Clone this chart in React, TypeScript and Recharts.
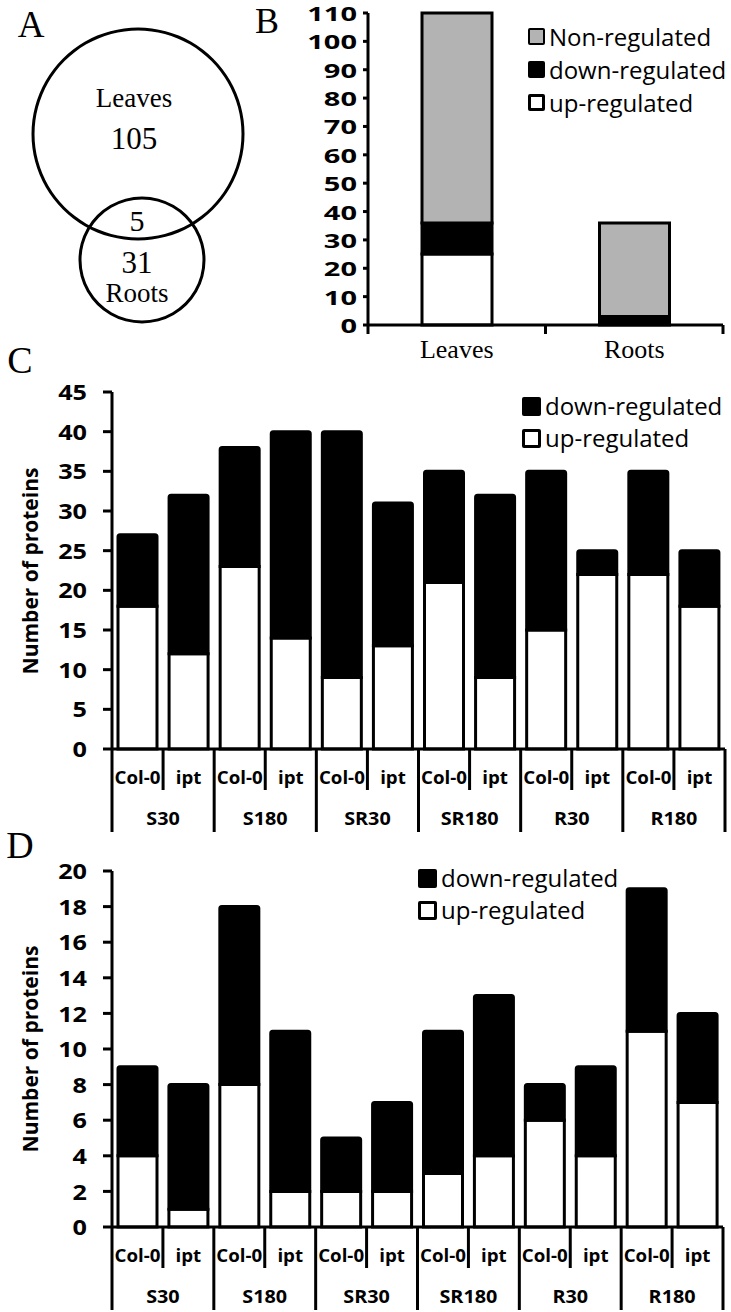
import type { CSSProperties } from 'react'
import { Bar, BarChart, Pie, PieChart, XAxis, YAxis } from 'recharts'

// panel A: venn counts (leaves only, shared, roots only)
const VENN_SETS = ['Leaves', 'Roots']
const VENN_COUNTS = [105, 5, 31]

// panel B
const ORGANS = ['Leaves', 'Roots']
const ORGAN_UP = [25, 1]
const ORGAN_DOWN = [11, 2]
const ORGAN_NON = [74, 33]
const B_TICKS = [0, 10, 20, 30, 40, 50, 60, 70, 80, 90, 100, 110]

// panels C and D
const TREATMENTS = ['S30', 'S180', 'SR30', 'SR180', 'R30', 'R180']
const LINES = ['Col-0', 'ipt']

const C_UP = [18, 12, 23, 14, 9, 13, 21, 9, 15, 22, 22, 18]
const C_DOWN = [9, 20, 15, 26, 31, 18, 14, 23, 20, 3, 13, 7]
const C_TICKS = [0, 5, 10, 15, 20, 25, 30, 35, 40, 45]

const D_UP = [4, 1, 8, 2, 2, 2, 3, 4, 6, 4, 11, 7]
const D_DOWN = [5, 7, 10, 9, 3, 5, 8, 9, 2, 5, 8, 5]
const D_TICKS = [0, 2, 4, 6, 8, 10, 12, 14, 16, 18, 20]

const SANS = "'Open Sans', 'Noto Sans', sans-serif"
const SERIF = "'Liberation Serif', 'DejaVu Serif', serif"
const GRAY = '#b3b3b3'

const organData = ORGANS.map((organ, i) => ({
  organ,
  up: ORGAN_UP[i],
  down: ORGAN_DOWN[i],
  non: ORGAN_NON[i],
}))

function buildRows(up: number[], down: number[]) {
  const rows: { id: string; treatment: string; line: string; up: number; down: number }[] = []
  TREATMENTS.forEach((treatment, t) => {
    LINES.forEach((line, l) => {
      const i = t * LINES.length + l
      rows.push({ id: `${treatment}|${line}`, treatment, line, up: up[i], down: down[i] })
    })
  })
  return rows
}

const cData = buildRows(C_UP, C_DOWN)
const dData = buildRows(D_UP, D_DOWN)

function YTick(props: any) {
  const { x, y, payload, stretch, size } = props
  return (
    <text
      transform={`translate(${x},${y}) scale(${stretch},1)`}
      textAnchor="end"
      dominantBaseline="central"
      fontFamily={SANS}
      fontWeight={700}
      fontSize={size}
      fill="#000"
    >
      {payload.value}
    </text>
  )
}

function OrganTick(props: any) {
  const { x, y, payload, index, band } = props
  const half = band / 2
  return (
    <g>
      <line x1={x - half} x2={x - half} y1={y} y2={y + 9} stroke="#000" strokeWidth={3} />
      {index === ORGANS.length - 1 && (
        <line x1={x + half} x2={x + half} y1={y} y2={y + 9} stroke="#000" strokeWidth={3} />
      )}
      <text
        x={x}
        y={y + 24}
        textAnchor="middle"
        dominantBaseline="central"
        fontFamily={SERIF}
        fontSize={26}
        fill="#000"
      >
        {payload.value}
      </text>
    </g>
  )
}

function GroupTick(props: any) {
  const { x, y, index, band, rows } = props
  const row = rows[index]
  const half = band / 2
  const first = index % 2 === 0
  const last = index === rows.length - 1
  return (
    <g>
      <line
        x1={x - half}
        x2={x - half}
        y1={y}
        y2={y + (first ? 83 : 41)}
        stroke="#000"
        strokeWidth={3}
      />
      {last && <line x1={x + half} x2={x + half} y1={y} y2={y + 83} stroke="#000" strokeWidth={3} />}
      <text
        transform={`translate(${x},${y + 28}) scale(1.1,1)`}
        textAnchor="middle"
        dominantBaseline="central"
        fontFamily={SANS}
        fontWeight={700}
        fontSize={17}
        fill="#000"
      >
        {row.line}
      </text>
      {!first && (
        <text
          transform={`translate(${x - half},${y + 69}) scale(1.1,1)`}
          textAnchor="middle"
          dominantBaseline="central"
          fontFamily={SANS}
          fontWeight={700}
          fontSize={18}
          fill="#000"
        >
          {row.treatment}
        </text>
      )}
    </g>
  )
}

type LegendItem = { label: string; fill: string; border: number }

function LegendBox({ items, left, top, gap, box }: { items: LegendItem[]; left: number; top: number; gap: number; box: number }) {
  return (
    <div style={{ position: 'absolute', left, top }}>
      {items.map((it) => (
        <div key={it.label} style={{ display: 'flex', alignItems: 'center', height: gap }}>
          <div
            style={{
              width: box,
              height: box,
              boxSizing: 'border-box',
              background: it.fill,
              border: `${it.border}px solid #000`,
              borderRadius: 2,
              marginRight: 4,
            }}
          />
          <span style={{ fontFamily: SANS, fontSize: 24, color: '#000', lineHeight: 1 }}>{it.label}</span>
        </div>
      ))}
    </div>
  )
}

const abs = (left: number, top: number): CSSProperties => ({ position: 'absolute', left, top })

function Text({ x, y, size, children, family = SERIF, weight = 400, rotate = 0 }: any) {
  return (
    <div
      style={{
        position: 'absolute',
        left: x,
        top: y,
        transform: `translate(-50%, -50%) rotate(${rotate}deg)`,
        fontFamily: family,
        fontSize: size,
        fontWeight: weight,
        whiteSpace: 'nowrap',
        lineHeight: 1,
        color: '#000',
      }}
    >
      {children}
    </div>
  )
}

function RegChart({ data, ticks, top, height, marginTop, right, xHeight, legendLeft, legendTop }: any) {
  const plotW = 731 - 112 - right
  const band = plotW / data.length
  return (
    <>
      <div style={abs(0, top)}>
        <BarChart
          width={731}
          height={height}
          data={data}
          margin={{ top: marginTop, right, bottom: 1, left: 0 }}
        >
          <XAxis
            dataKey="id"
            height={xHeight}
            interval={0}
            tickLine={false}
            tickSize={0}
            tickMargin={0}
            axisLine={{ stroke: '#000', strokeWidth: 3 }}
            tick={(p: any) => <GroupTick {...p} band={band} rows={data} />}
          />
          <YAxis
            width={112}
            domain={[0, ticks[ticks.length - 1]]}
            ticks={ticks}
            interval={0}
            tickSize={9}
            tickMargin={16}
            axisLine={{ stroke: '#000', strokeWidth: 3 }}
            tickLine={{ stroke: '#000', strokeWidth: 3 }}
            tick={(p: any) => <YTick {...p} stretch={1.2} size={21} />}
          />
          <Bar dataKey="up" stackId="s" fill="#fff" stroke="#000" strokeWidth={3} barSize={39} isAnimationActive={false} />
          <Bar
            dataKey="down"
            stackId="s"
            fill="#000"
            stroke="#000"
            strokeWidth={3}
            barSize={39}
            radius={[2, 2, 0, 0]}
            isAnimationActive={false}
          />
        </BarChart>
      </div>
      <Text x={30} y={top + marginTop + (height - marginTop - 1 - xHeight) / 2} size={21} family={SANS} weight={700} rotate={-90}>
        Number of proteins
      </Text>
      <LegendBox
        left={legendLeft}
        top={legendTop}
        gap={32}
        box={19}
        items={[
          { label: 'down-regulated', fill: '#000', border: 0 },
          { label: 'up-regulated', fill: '#fff', border: 3 },
        ]}
      />
    </>
  )
}

export default function App() {
  const bBand = (731 - 8 - 368) / ORGANS.length
  return (
    <div style={{ position: 'absolute', left: 0, top: 0, width: 731, height: 1312, background: '#fff', overflow: 'hidden' }}>
      {/* A */}
      <div style={abs(0, 0)}>
        <PieChart width={260} height={330}>
          <Pie
            data={[{ name: VENN_SETS[0], value: 1 }]}
            dataKey="value"
            cx={133}
            cy={129}
            innerRadius={103.5}
            outerRadius={106.5}
            fill="#000"
            stroke="none"
            isAnimationActive={false}
          />
          <Pie
            data={[{ name: VENN_SETS[1], value: 1 }]}
            dataKey="value"
            cx={137}
            cy={255}
            innerRadius={60.5}
            outerRadius={63.5}
            fill="#000"
            stroke="none"
            isAnimationActive={false}
          />
        </PieChart>
      </div>
      <Text x={31} y={24} size={37}>A</Text>
      <Text x={134} y={98} size={27}>{VENN_SETS[0]}</Text>
      <Text x={134} y={138} size={31}>{VENN_COUNTS[0]}</Text>
      <Text x={137} y={221} size={30}>{VENN_COUNTS[1]}</Text>
      <Text x={137} y={262} size={31}>{VENN_COUNTS[2]}</Text>
      <Text x={137} y={293} size={27}>{VENN_SETS[1]}</Text>

      {/* B */}
      <Text x={267} y={21} size={36}>B</Text>
      <div style={abs(240, 0)}>
        <BarChart width={491} height={370} data={organData} margin={{ top: 13, right: 8, bottom: 5, left: 0 }}>
          <XAxis
            dataKey="organ"
            height={40}
            interval={0}
            tickLine={false}
            tickSize={0}
            tickMargin={0}
            axisLine={{ stroke: '#000', strokeWidth: 3 }}
            tick={(p: any) => <OrganTick {...p} band={bBand} />}
          />
          <YAxis
            width={128}
            domain={[0, 110]}
            ticks={B_TICKS}
            interval={0}
            tickSize={5}
            tickMargin={6}
            axisLine={{ stroke: '#000', strokeWidth: 3 }}
            tickLine={{ stroke: '#000', strokeWidth: 3 }}
            tick={(p: any) => <YTick {...p} stretch={1.45} size={20} />}
          />
          <Bar dataKey="up" stackId="s" fill="#fff" stroke="#000" strokeWidth={3} barSize={70} isAnimationActive={false} />
          <Bar dataKey="down" stackId="s" fill="#000" stroke="#000" strokeWidth={3} barSize={70} isAnimationActive={false} />
          <Bar dataKey="non" stackId="s" fill={GRAY} stroke="#000" strokeWidth={3} barSize={70} isAnimationActive={false} />
        </BarChart>
      </div>
      <LegendBox
        left={528}
        top={20}
        gap={33}
        box={17}
        items={[
          { label: 'Non-regulated', fill: GRAY, border: 2 },
          { label: 'down-regulated', fill: '#000', border: 0 },
          { label: 'up-regulated', fill: '#fff', border: 3 },
        ]}
      />

      {/* C */}
      <Text x={20} y={360} size={38}>C</Text>
      <RegChart data={cData} ticks={C_TICKS} top={370} height={470} marginTop={22} right={6} xHeight={90} legendLeft={522} legendTop={390} />

      {/* D */}
      <Text x={20} y={845} size={38}>D</Text>
      <RegChart data={dData} ticks={D_TICKS} top={845} height={467} marginTop={26} right={8} xHeight={84} legendLeft={418} legendTop={862} />
    </div>
  )
}
